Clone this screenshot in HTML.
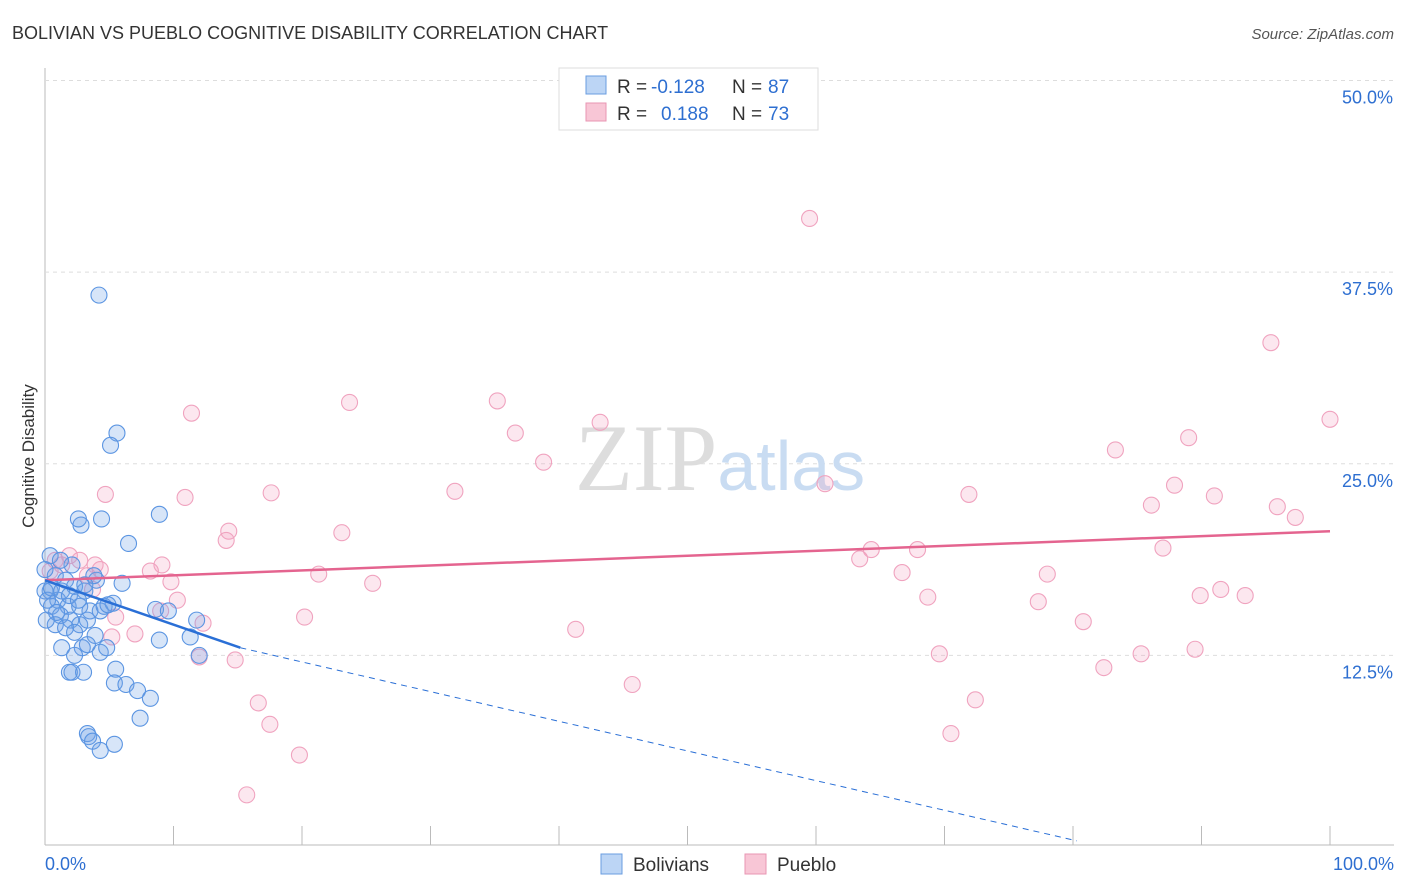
<!DOCTYPE html>
<html><head><meta charset="utf-8"><style>
body{margin:0;background:#fff;font-family:"Liberation Sans",sans-serif;}
#c{position:absolute;left:0;top:0;}
</style></head><body>
<svg id="c" width="1406" height="892">
<text x="12" y="39" font-size="18" fill="#333">BOLIVIAN VS PUEBLO COGNITIVE DISABILITY CORRELATION CHART</text>
<text x="1394" y="39" font-size="15" fill="#555" font-style="italic" text-anchor="end">Source: ZipAtlas.com</text>
<text x="34" y="456" font-size="17" fill="#333" transform="rotate(-90 34 456)" text-anchor="middle">Cognitive Disability</text>
<g id="grid"></g>
<text x="720" y="490" font-size="95" fill="#ddd" text-anchor="middle" font-family="Liberation Serif">ZIP<tspan fill="#c9dcf2" font-family="Liberation Sans" font-size="70">atlas</tspan></text>
<g id="pts"></g>
<g id="lines"></g>
<g>
<rect x="559" y="68" width="259" height="62" fill="#fff" stroke="#ddd"/>
<rect x="586" y="76" width="20" height="18" fill="#bcd5f5" stroke="#6a9de0"/>
<rect x="586" y="103" width="20" height="18" fill="#f8c6d6" stroke="#e896b3"/>
<text x="617" y="93" font-size="19" fill="#333">R =</text>
<text x="651" y="93" font-size="19" fill="#2e6fd1">-0.128</text>
<text x="732" y="93" font-size="19" fill="#333">N =</text>
<text x="768" y="93" font-size="19" fill="#2e6fd1">87</text>
<text x="617" y="120" font-size="19" fill="#333">R =</text>
<text x="661" y="120" font-size="19" fill="#2e6fd1">0.188</text>
<text x="732" y="120" font-size="19" fill="#333">N =</text>
<text x="768" y="120" font-size="19" fill="#2e6fd1">73</text>
</g>
<g>
<rect x="601" y="854" width="21" height="20" fill="#bcd5f5" stroke="#6a9de0"/>
<text x="633" y="871" font-size="19" fill="#333">Bolivians</text>
<rect x="745" y="854" width="21" height="20" fill="#f8c6d6" stroke="#e896b3"/>
<text x="777" y="871" font-size="19" fill="#333">Pueblo</text>
</g>
<text x="45" y="870" font-size="18" fill="#2e6fd1">0.0%</text>
<text x="1394" y="870" font-size="18" fill="#2e6fd1" text-anchor="end">100.0%</text>
</svg>
<script>
const yTicks=[12.5,25,37.5,50];
const yTickLabels=["12.5%","25.0%","37.5%","50.0%"];
const blueX=[4.2,5.6,5.1,8.9,4.4,2.8,6.5,2.6,6.0,4.0,3.8,2.1,0.4,1.2,0.8,1.6,2.3,3.1,0.4,1.0,1.8,2.7,3.5,4.3,4.6,5.3,8.6,9.6,0.5,1.2,2.0,2.7,0.8,1.6,2.3,3.9,11.8,11.3,8.9,1.3,2.9,4.3,4.8,12.0,2.3,3.3,5.5,1.9,2.1,3.0,5.4,6.3,7.2,8.2,7.4,3.3,3.4,3.7,4.3,5.4,0.0,0.2,0.0,0.5,1.3,1.9,2.6,3.3,0.9,0.1,4.9,3.1];
const blueY=[36.0,27.0,26.2,21.7,21.4,21.0,19.8,21.4,17.2,17.4,17.7,18.4,19.0,18.7,17.7,17.4,17.0,16.7,16.7,16.1,15.7,15.7,15.4,15.4,15.7,15.9,15.5,15.4,15.7,15.1,14.8,14.5,14.5,14.3,14.0,13.8,14.8,13.7,13.5,13.0,13.0,12.7,13.0,12.5,12.5,13.2,11.6,11.4,11.4,11.4,10.7,10.6,10.2,9.7,8.4,7.4,7.2,6.9,6.3,6.7,16.7,16.1,18.1,16.9,16.7,16.4,16.1,14.8,15.3,14.8,15.8,17.1];
const pinkX=[59.5,95.4,100,35.2,23.7,43.2,11.4,36.6,89.0,83.3,38.8,31.9,17.6,4.7,10.9,87.9,71.9,91.0,60.7,86.1,95.9,97.3,14.3,23.1,14.1,64.3,67.9,87.0,9.1,8.2,63.4,21.3,78.0,25.5,9.8,66.7,91.5,89.9,93.4,68.7,77.3,10.3,9.0,20.2,12.3,5.5,80.8,41.3,5.2,7.0,69.6,85.3,89.5,12.0,14.8,82.4,45.7,16.6,72.4,17.5,70.5,19.8,15.7,0.4,0.8,1.3,1.9,2.7,3.9,3.3,4.3,3.7];
const pinkY=[41.0,32.9,27.9,29.1,29.0,27.7,28.3,27.0,26.7,25.9,25.1,23.2,23.1,23.0,22.8,23.6,23.0,22.9,23.7,22.3,22.2,21.5,20.6,20.5,20.0,19.4,19.4,19.5,18.4,18.0,18.8,17.8,17.8,17.2,17.3,17.9,16.8,16.4,16.4,16.3,16.0,16.1,15.4,15.0,14.6,15.0,14.7,14.2,13.7,13.9,12.6,12.6,12.9,12.4,12.2,11.7,10.6,9.4,9.6,8.0,7.4,6.0,3.4,18.0,18.7,18.4,19.0,18.7,18.4,17.7,18.1,16.8];
const blueTrend=[[0,17.4],[15.2,13.0],[80.3,0.4]];
const pinkTrend=[[0,17.4],[100,20.6]];
const X0=45,X1=1330,Y0=847,YS=15.33;
const xs=v=>X0+v*(X1-X0)/100, ys=v=>Y0-v*YS;
const ns="http://www.w3.org/2000/svg";
function mk(t,a,p){const e=document.createElementNS(ns,t);for(const k in a)e.setAttribute(k,a[k]);p.appendChild(e);return e;}
const grid=document.getElementById('grid');
mk('line',{x1:45,y1:68,x2:45,y2:845,stroke:'#bbb'},grid);
mk('line',{x1:45,y1:845,x2:1394,y2:845,stroke:'#bbb'},grid);
for(let i=1;i<=10;i++){const l=mk('line',{x1:45+i*128.5,y1:826,x2:45+i*128.5,y2:845,stroke:'#bbb'},grid);

}
yTicks.forEach((v,i)=>{const g=mk('line',{x1:45,x2:1394,y1:ys(v),y2:ys(v),stroke:'#ddd','stroke-dasharray':'4,4'},grid);


const t=mk('text',{x:1393,y:ys(v)+23,'font-size':18,fill:'#2e6fd1','text-anchor':'end'},grid);t.textContent=yTickLabels[i];

});
const pts=document.getElementById('pts');
pinkX.forEach((x,i)=>{const c=mk('circle',{cx:xs(x),cy:ys(pinkY[i]),r:8,fill:'rgba(244,160,190,0.25)',stroke:'#f0a3bf','stroke-width':1.1},pts);

});
blueX.forEach((x,i)=>{const c=mk('circle',{cx:xs(x),cy:ys(blueY[i]),r:8,fill:'rgba(110,160,230,0.28)',stroke:'#5b95e2','stroke-width':1.1},pts);

});
const L=document.getElementById('lines');
let a=mk('line',{x1:xs(pinkTrend[0][0]),y1:ys(pinkTrend[0][1]),x2:xs(pinkTrend[1][0]),y2:ys(pinkTrend[1][1]),stroke:'#e4648f','stroke-width':2.5},L);


let b=mk('line',{x1:xs(blueTrend[0][0]),y1:ys(blueTrend[0][1]),x2:xs(blueTrend[1][0]),y2:ys(blueTrend[1][1]),stroke:'#2a6fd6','stroke-width':2.5},L);


let d=mk('line',{x1:xs(blueTrend[1][0]),y1:ys(blueTrend[1][1]),x2:xs(blueTrend[2][0]),y2:ys(blueTrend[2][1]),stroke:'#2a6fd6','stroke-width':1,'stroke-dasharray':'6,5'},L);


</script>
</body></html>
